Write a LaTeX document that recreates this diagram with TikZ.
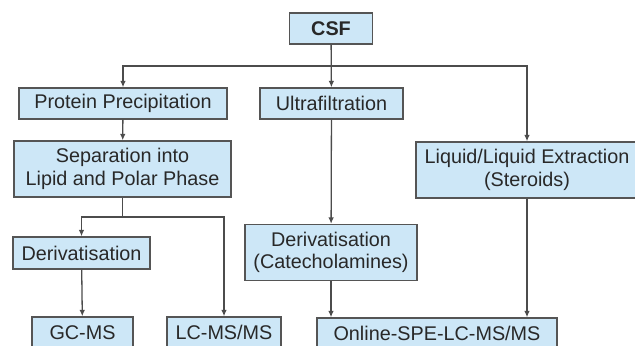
\documentclass[tikz,border=0pt]{standalone}
\usepackage{fontspec}
\setmainfont{Liberation Sans}
\usepackage{xcolor}
\usepackage{tikz}
\usetikzlibrary{arrows.meta,positioning}
\definecolor{boxfill}{RGB}{205,231,247}
\definecolor{boxline}{RGB}{85,85,85}
\definecolor{txt}{RGB}{40,40,40}

\begin{document}
\begin{tikzpicture}[x=0.5pt, y=-0.5pt,
  box/.style={draw=boxline, fill=boxfill, line width=0.7pt, text=txt,
    inner sep=0pt, align=center, font=\fontsize{9.9}{11.2}\selectfont},
  one/.style={minimum height=15.5pt},
  two/.style={minimum height=28pt},
  arr/.style={draw=boxline!90!black, line width=0.65pt, -{Latex[length=3.2pt,width=2.8pt]}},
  link/.style={draw=boxline!90!black, line width=0.65pt}]
\clip (0,0) rectangle (635,346);
% boxes
\node[box, one, minimum width=41.5pt, font=\fontsize{9.9}{11.2}\selectfont\bfseries] (csf) at (331,28.5) {CSF};
\node[box, one, minimum width=104pt] (prot) at (123,103.5) {Protein Precipitation};
\node[box, one, minimum width=71.5pt] (ultra) at (331.5,103.5) {Ultrafiltration};
\node[box, two, minimum width=108.5pt] (sep) at (122.5,169) {Separation into\\Lipid and Polar Phase};
\node[box, two, minimum width=111pt] (liq) at (527,170) {Liquid/Liquid Extraction\\(Steroids)};
\node[box, one, minimum width=68.5pt, minimum height=16pt] (deriv) at (81.5,253) {Derivatisation};
\node[box, two, minimum width=86pt] (derivc) at (331,252.5) {Derivatisation\\(Catecholamines)};
\node[box, one, minimum width=50.5pt] (gcms) at (82.5,332.5) {GC-MS};
\node[box, one, minimum width=57pt] (lcms) at (224,332.5) {LC-MS/MS};
\node[box, one, minimum width=120pt] (online) at (437,333.5) {Online-SPE-LC-MS/MS};
% branch points
\coordinate (split1) at (331.5,66);
\coordinate (split2) at (122.5,217);
% arrows
\draw[arr] (csf) -- (ultra);
\draw[arr] (split1) -| (prot);
\draw[arr] (split1) -| (liq);
\draw[arr] (prot) -- (sep);
\draw[link] (sep) -- (split2);
\draw[arr] (split2) -| (deriv);
\draw[arr] (split2) -| (lcms);
\draw[arr] (deriv) -- (gcms);
\draw[arr] (ultra) -- (derivc);
\draw[arr] (derivc.south) -- (derivc.south |- online.north);
\draw[arr] (liq.south) -- (liq.south |- online.north);
\end{tikzpicture}
\end{document}
